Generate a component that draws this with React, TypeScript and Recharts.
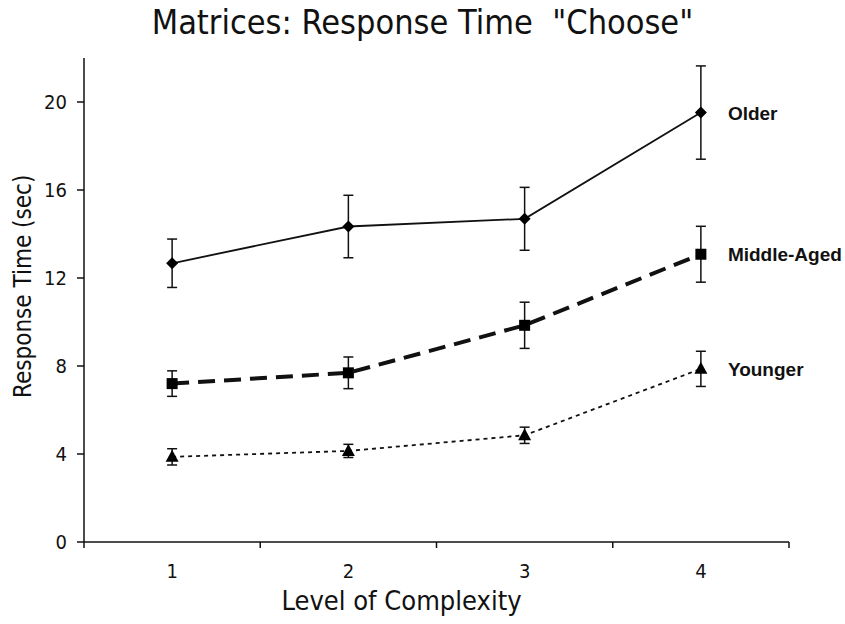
import React from "react";
import { LineChart, Line, XAxis, YAxis, ErrorBar, LabelList } from "recharts";

// --- Data ---
const levels = [1, 2, 3, 4];
const older = [12.67, 14.34, 14.69, 19.52];
const olderErr = [1.1, 1.42, 1.43, 2.12];
const middleAged = [7.2, 7.69, 9.85, 13.08];
const middleAgedErr = [0.58, 0.72, 1.05, 1.27];
const younger = [3.87, 4.14, 4.85, 7.87];
const youngerErr = [0.37, 0.3, 0.37, 0.8];
const yTicks = [0, 4, 8, 12, 16, 20];
const xTicks = [0.5, 1, 1.5, 2, 2.5, 3, 3.5, 4, 4.5];

const data = levels.map((level, i) => ({
  level,
  older: older[i],
  olderErr: olderErr[i],
  middle: middleAged[i],
  middleErr: middleAgedErr[i],
  younger: younger[i],
  youngerErr: youngerErr[i],
}));

const FONT = "'Liberation Sans Narrow', 'DejaVu Sans Condensed', 'Liberation Sans', sans-serif";
const BOLD_FONT = "'Liberation Sans', Arial, sans-serif";

// --- Markers ---
const Diamond = ({ cx, cy }: any) => (
  <path d={`M${cx},${cy - 6} L${cx + 6},${cy} L${cx},${cy + 6} L${cx - 6},${cy} Z`} fill="#000" />
);
const Square = ({ cx, cy }: any) => (
  <rect x={cx - 5.5} y={cy - 5.5} width={11} height={11} fill="#000" />
);
const Triangle = ({ cx, cy }: any) => (
  <path d={`M${cx},${cy - 7} L${cx + 6.5},${cy + 5} L${cx - 6.5},${cy + 5} Z`} fill="#000" />
);

// x axis: numbers under the points, tick marks between them
const XTick = ({ x, y, payload }: any) => {
  const v = payload.value;
  if (Number.isInteger(v)) {
    return (
      <text x={x} y={y + 36} textAnchor="middle" fontSize={20} fontFamily={FONT} fill="#111">
        {v}
      </text>
    );
  }
  return <line x1={x} y1={y} x2={x} y2={y + 6} stroke="#111" strokeWidth={1.5} />;
};

// name at the end of each line
const endLabel = (name: string) => (props: any) => {
  const { x, y, index } = props;
  if (index !== levels.length - 1) return null;
  return (
    <text x={x + 27} y={y + 7} fontSize={19} fontWeight="bold" fontFamily={BOLD_FONT} fill="#111">
      {name}
    </text>
  );
};

export default function App() {
  return (
    <div style={{ position: "absolute", left: 0, top: 0, width: 845, height: 624, background: "#fff" }}>
      <div
        style={{
          position: "absolute",
          top: 2,
          left: 0,
          width: 845,
          textAlign: "center",
          fontFamily: FONT,
          fontSize: 34,
          color: "#111",
          whiteSpace: "pre",
        }}
      >
        {'Matrices: Response Time  "Choose"'}
      </div>
      <LineChart
        width={845}
        height={624}
        data={data}
        margin={{ top: 58, right: 56, bottom: 42, left: 24 }}
      >
        <XAxis
          dataKey="level"
          type="number"
          domain={[0.5, 4.5]}
          ticks={xTicks}
          interval={0}
          tickLine={false}
          tickSize={0}
          tickMargin={0}
          height={40}
          axisLine={{ stroke: "#111", strokeWidth: 1.5 }}
          tick={<XTick />}
          label={{
            value: "Level of Complexity",
            position: "insideBottom",
            offset: -28,
            dx: -35,
            style: { fontFamily: FONT, fontSize: 27, fill: "#111" },
          }}
        />
        <YAxis
          domain={[0, 22]}
          ticks={yTicks}
          width={60}
          tickSize={7}
          tickMargin={10}
          axisLine={{ stroke: "#111", strokeWidth: 1.5 }}
          tickLine={{ stroke: "#111", strokeWidth: 1.5 }}
          tick={{ fontFamily: FONT, fontSize: 20, fill: "#111" }}
          label={{
            value: "Response Time (sec)",
            angle: -90,
            position: "insideLeft",
            offset: -2,
            dy: 98,
            style: { fontFamily: FONT, fontSize: 24, fill: "#111" },
          }}
        />
        <Line
          dataKey="older"
          stroke="#111"
          strokeWidth={1.8}
          dot={<Diamond />}
          activeDot={false}
          isAnimationActive={false}
        >
          <ErrorBar dataKey="olderErr" direction="y" width={5} stroke="#111" strokeWidth={1.5} />
          <LabelList dataKey="older" content={endLabel("Older")} />
        </Line>
        <Line
          dataKey="middle"
          stroke="#111"
          strokeWidth={4}
          strokeDasharray="17 9"
          dot={<Square />}
          activeDot={false}
          isAnimationActive={false}
        >
          <ErrorBar dataKey="middleErr" direction="y" width={5} stroke="#111" strokeWidth={1.5} />
          <LabelList dataKey="middle" content={endLabel("Middle-Aged")} />
        </Line>
        <Line
          dataKey="younger"
          stroke="#111"
          strokeWidth={1.8}
          strokeDasharray="4 4"
          dot={<Triangle />}
          activeDot={false}
          isAnimationActive={false}
        >
          <ErrorBar dataKey="youngerErr" direction="y" width={5} stroke="#111" strokeWidth={1.5} />
          <LabelList dataKey="younger" content={endLabel("Younger")} />
        </Line>
      </LineChart>
    </div>
  );
}
